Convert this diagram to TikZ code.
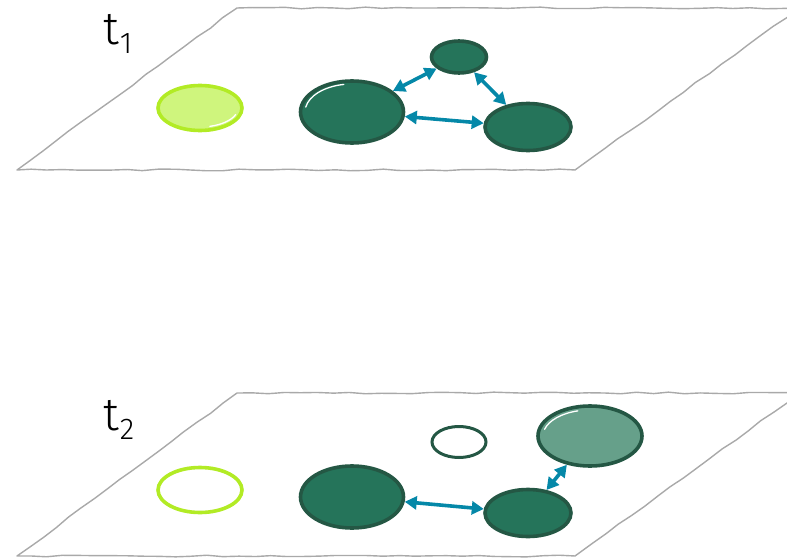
\documentclass[tikz,border=0pt]{standalone}
\usepackage{fontspec}
\setmainfont{Fira Sans Light}
\usetikzlibrary{shapes.geometric,arrows.meta,decorations.pathmorphing}
\definecolor{dkfill}{HTML}{25745A}
\definecolor{dkline}{HTML}{245744}
\definecolor{ltfill}{HTML}{CFF57D}
\definecolor{ltline}{HTML}{B2EB25}
\definecolor{midfill}{HTML}{66A08A}
\definecolor{arr}{HTML}{0588A8}
\definecolor{plane}{HTML}{A9A9A9}
\tikzset{
  planeedge/.style={draw=plane,line width=1.4pt,line join=round,
    decorate,decoration={random steps,segment length=16pt,amplitude=0.9pt}},
  blob/.style={ellipse,draw=dkline,line width=3.6pt,inner sep=0pt},
  dkblob/.style={blob,fill=dkfill},
  midblob/.style={blob,fill=midfill},
  openblob/.style={blob,fill=white,line width=3pt},
  ltblob/.style={ellipse,draw=ltline,line width=3.6pt,inner sep=0pt},
  link/.style={draw=arr,line width=3.6pt,{Triangle[width=13pt,length=12pt]}-{Triangle[width=13pt,length=12pt]}},
  tlabel/.style={font=\fontsize{46}{48}\selectfont,inner sep=0pt,anchor=base west},
  hl/.style={draw=white,line width=1.3pt,line cap=round}
}
\newcommand{\tsub}[1]{t\kern1pt\raisebox{-9pt}{\fontsize{30}{30}\selectfont #1}}
\begin{document}
\begin{tikzpicture}[x=1pt,y=-1pt]
\useasboundingbox (0,0) rectangle (787,559);
\begin{scope}
\clip (0,0) rectangle (787,559);
\draw[planeedge] (237,8) -- (800,8) -- (575,170) -- (17,170) -- cycle;
\draw[planeedge] (237,393) -- (800,393) -- (575,556) -- (17,556) -- cycle;
\end{scope}
% labels
\node[tlabel] (t1) at (103,45) {\tsub{1}};
\node[tlabel] (t2) at (103,430) {\tsub{2}};
% top plane
\node[ltblob,fill=ltfill,minimum width=84pt,minimum height=45pt] (g1) at (200,108) {};
\draw[hl] (200,108) ++(-75:38pt and 19pt) arc[start angle=-75,end angle=-20,x radius=38pt,y radius=19pt];
\node[dkblob,minimum width=103pt,minimum height=62pt] (a1) at (352,112) {};
\draw[hl] (352,112) ++(100:47pt and 28pt) arc[start angle=100,end angle=170,x radius=47pt,y radius=28pt];
\node[dkblob,minimum width=55pt,minimum height=32pt] (b1) at (459,57) {};
\node[dkblob,minimum width=86pt,minimum height=47pt] (c1) at (528,127) {};
\draw[link] (a1) -- (b1);
\draw[link] (b1) -- (c1);
\draw[link] (a1) -- (c1);
% bottom plane
\node[ltblob,fill=white,minimum width=84pt,minimum height=45pt] (g2) at (200,490) {};
\node[openblob,minimum width=54pt,minimum height=31pt] (b2) at (459,442) {};
\node[dkblob,minimum width=103pt,minimum height=62pt] (a2) at (352,497) {};
\node[dkblob,minimum width=86pt,minimum height=47pt] (c2) at (528,513) {};
\node[midblob,minimum width=104pt,minimum height=60pt] (d2) at (590,436) {};
\draw[hl] (590,436) ++(105:47pt and 26pt) arc[start angle=105,end angle=165,x radius=47pt,y radius=26pt];
\draw[link] (a2) -- (c2);
\draw[link] (c2) -- (d2);
\end{tikzpicture}
\end{document}
